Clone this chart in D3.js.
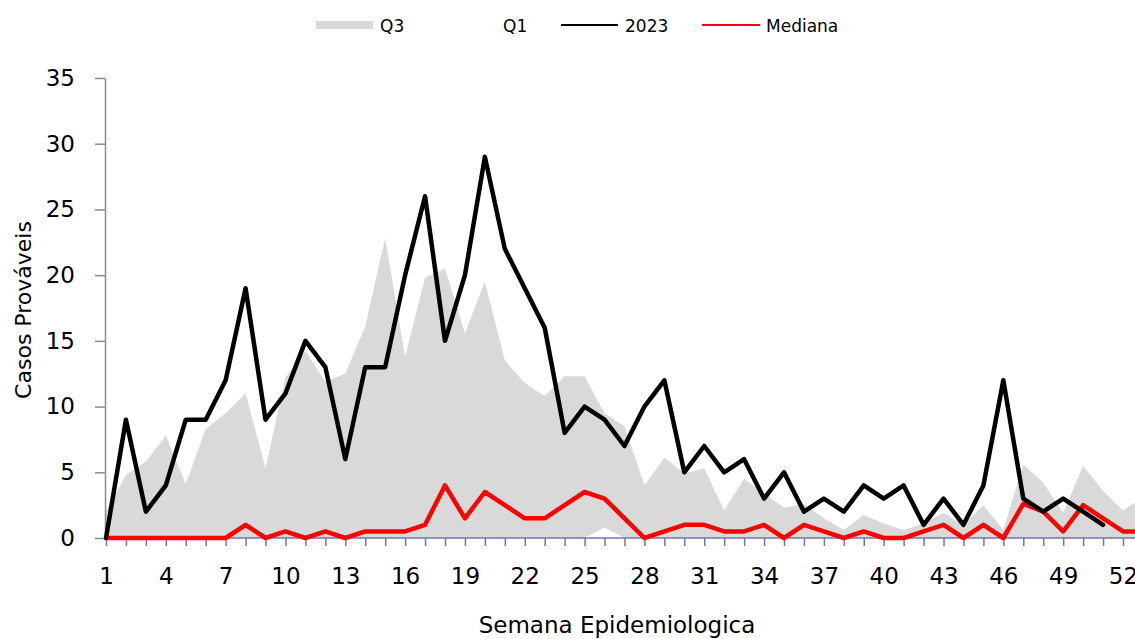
<!DOCTYPE html>
<html>
<head>
<meta charset="utf-8">
<script src="https://cdn.jsdelivr.net/npm/d3@7"></script>
<style>
  body { margin: 0; background: #fff; }
  svg { display: block; font-family: "DejaVu Sans", sans-serif; }
</style>
</head>
<body>
<div id="chartContainer"></div>
<script>
// semanas epidemiologicas (a 53 fica fora do corte, como no original)
var semanas = d3.range(1, 54);

// quartil 3 (limite superior da faixa cinza)
var q3 = [2, 4.8, 5.8, 7.8, 4.1, 8.3, 9.5, 11, 5.3, 12.2,
  14.2, 11.9, 12.5, 16.1, 22.8, 13.8, 19.8, 20.5, 15.6, 19.5,
  13.5, 11.8, 10.8, 12.3, 12.3, 9.5, 8.5, 4, 6.1, 4.9,
  5.3, 2.1, 4.5, 3.4, 2.3, 2.6, 1.5, 0.6, 1.75, 1.1,
  0.6, 1.1, 1.9, 1.0, 2.5, 0.6, 5.6, 4.2, 1.9, 5.5,
  3.6, 2.1, 3.1];

// quartil 1 (quase sempre zero)
var q1 = [0, 0, 0, 0, 0, 0, 0, 0, 0, 0,
  0, 0, 0, 0, 0, 0, 0, 0, 0, 0,
  0, 0, 0, 0, 0, 0.8, 0, 0, 0, 0,
  0, 0, 0, 0, 0, 0, 0, 0, 0, 0,
  0, 0, 0, 0, 0, 0, 0, 0, 0, 0,
  0, 0, 0];

// casos 2023 (ate a semana 51)
var casos2023 = [0, 9, 2, 4, 9, 9, 12, 19, 9, 11,
  15, 13, 6, 13, 13, 20, 26, 15, 20, 29,
  22, 19, 16, 8, 10, 9, 7, 10, 12, 5,
  7, 5, 6, 3, 5, 2, 3, 2, 4, 3,
  4, 1, 3, 1, 4, 12, 3, 2, 3, 2,
  1];

// mediana
var mediana = [0, 0, 0, 0, 0, 0, 0, 1, 0, 0.5,
  0, 0.5, 0, 0.5, 0.5, 0.5, 1, 4, 1.5, 3.5,
  2.5, 1.5, 1.5, 2.5, 3.5, 3, 1.5, 0, 0.5, 1,
  1, 0.5, 0.5, 1, 0, 1, 0.5, 0, 0.5, 0,
  0, 0.5, 1, 0, 1, 0, 2.6, 2, 0.5, 2.5,
  1.5, 0.5, 0.5];

var yTicks = [0, 5, 10, 15, 20, 25, 30, 35];
var xTickLabels = [1, 4, 7, 10, 13, 16, 19, 22, 25, 28, 31, 34, 37, 40, 43, 46, 49, 52];

var width = 1135, height = 639;

var x = d3.scaleLinear().domain([1, 52]).range([106, 1123]);
var y = d3.scaleLinear().domain([0, 35]).range([538, 78]);

var svg = d3.select("#chartContainer").append("svg")
  .attr("width", width)
  .attr("height", height);

// faixa Q1-Q3: area cinza ate Q3, area branca ate Q1 por cima
var area = d3.area()
  .x(function(d, i) { return x(semanas[i]); })
  .y0(y(0))
  .y1(function(d) { return y(d); });

svg.append("path")
  .datum(q3)
  .attr("d", area)
  .attr("fill", "#d9d9d9");

svg.append("path")
  .datum(q1)
  .attr("d", area)
  .attr("fill", "#ffffff");

// eixo Y
var yAxis = d3.axisLeft(y)
  .tickValues(yTicks)
  .tickSize(10)
  .tickSizeOuter(0)
  .tickPadding(20);

var gy = svg.append("g")
  .attr("transform", "translate(105,0)")
  .call(yAxis);
gy.select(".domain").attr("stroke", "#8c8c8c").attr("stroke-width", 1.5);
gy.selectAll(".tick line").attr("stroke", "#8c8c8c").attr("stroke-width", 1.5);
gy.selectAll(".tick text")
  .attr("fill", "#000")
  .style("font-size", "23px")
  .style("font-family", "'DejaVu Sans', sans-serif");

// eixo X: marca em cada semana, rotulo a cada 3
var xAxis = d3.axisBottom(x)
  .tickValues(d3.range(1, 54))
  .tickSize(8)
  .tickSizeOuter(0)
  .tickPadding(22)
  .tickFormat(function(d) { return xTickLabels.indexOf(d) >= 0 ? d : ""; });

var gx = svg.append("g")
  .attr("transform", "translate(0,538)")
  .call(xAxis);
gx.select(".domain")
  .attr("d", "M105,0H" + width)
  .attr("stroke", "#7373ad").attr("stroke-width", 1.5);
gx.selectAll(".tick line").attr("stroke", "#7373ad").attr("stroke-width", 1.5);
gx.selectAll(".tick text")
  .attr("fill", "#000")
  .style("font-size", "23px")
  .style("font-family", "'DejaVu Sans', sans-serif");

// linhas
var linha = d3.line()
  .x(function(d, i) { return x(semanas[i]); })
  .y(function(d) { return y(d); });

svg.append("path")
  .datum(mediana)
  .attr("d", linha)
  .attr("fill", "none")
  .attr("stroke", "#ff0000")
  .attr("stroke-width", 4.5)
  .attr("stroke-linejoin", "round");

svg.append("path")
  .datum(casos2023)
  .attr("d", linha)
  .attr("fill", "none")
  .attr("stroke", "#000000")
  .attr("stroke-width", 4.5)
  .attr("stroke-linejoin", "round")
  .attr("stroke-linecap", "round");

// titulos dos eixos
svg.append("text")
  .attr("transform", "translate(31,310) rotate(-90)")
  .attr("text-anchor", "middle")
  .style("font-size", "22px")
  .text("Casos Prováveis");

svg.append("text")
  .attr("x", 617)
  .attr("y", 633)
  .attr("text-anchor", "middle")
  .style("font-size", "23px")
  .text("Semana Epidemiologica");

// legenda
var leg = svg.append("g").style("font-size", "17px");
leg.append("rect").attr("x", 316).attr("y", 21).attr("width", 57).attr("height", 8).attr("fill", "#d9d9d9");
leg.append("text").attr("x", 380).attr("y", 32).text("Q3");
leg.append("text").attr("x", 503).attr("y", 32).text("Q1");
leg.append("line").attr("x1", 561).attr("x2", 618).attr("y1", 25).attr("y2", 25).attr("stroke", "#000").attr("stroke-width", 2);
leg.append("text").attr("x", 625).attr("y", 32).text("2023");
leg.append("line").attr("x1", 702).attr("x2", 760).attr("y1", 25).attr("y2", 25).attr("stroke", "#ff0000").attr("stroke-width", 2);
leg.append("text").attr("x", 766).attr("y", 32).text("Mediana");
</script>
</body>
</html>
